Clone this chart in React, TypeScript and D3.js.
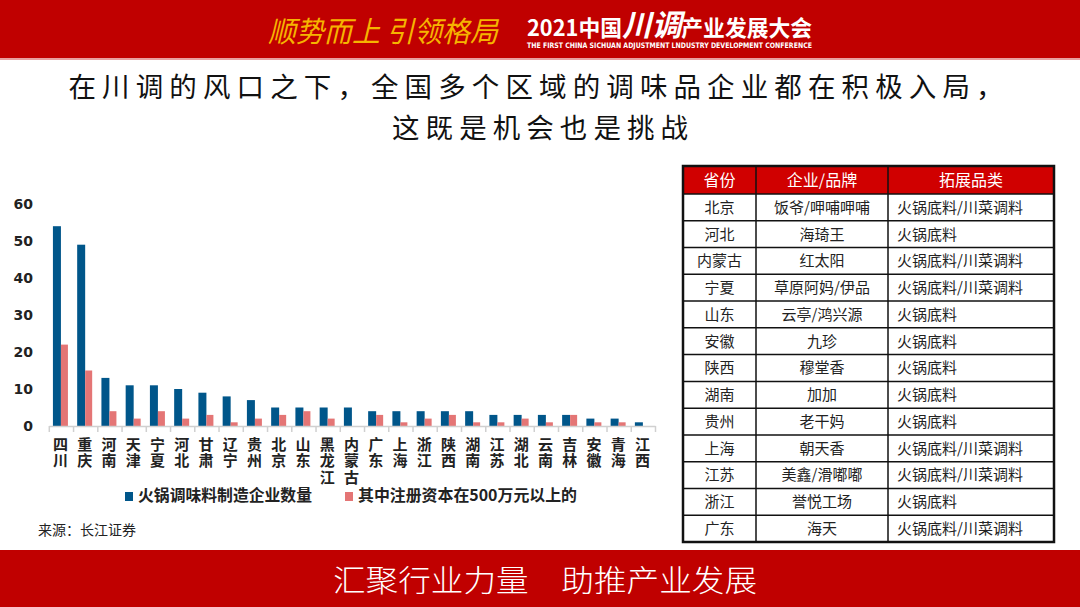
import React from "react";
import * as d3 from "d3";

const provinces = ["四川","重庆","河南","天津","宁夏","河北","甘肃","辽宁","贵州","北京","山东","黑龙江","内蒙古","广东","上海","浙江","陕西","湖南","江苏","湖北","云南","吉林","安徽","青海","江西"];
const enterpriseCount = [54,49,13,11,11,10,9,8,7,5,5,5,5,4,4,4,4,4,3,3,3,3,2,2,1];
const over5mCount = [22,15,4,2,4,2,3,1,2,3,4,2,0,3,1,2,3,1,1,2,1,3,1,1,0];
const yTicks = [0,10,20,30,40,50,60];
const seriesNames = ["火锅调味料制造企业数量","其中注册资本在500万元以上的"];
const titleLines = ["在川调的风口之下，全国多个区域的调味品企业都在积极入局，","这既是机会也是挑战"];

const tableHeader = ["省份","企业/品牌","拓展品类"];
const tableProvince = ["北京","河北","内蒙古","宁夏","山东","安徽","陕西","湖南","贵州","上海","江苏","浙江","广东"];
const tableBrand = ["饭爷/呷哺呷哺","海琦王","红太阳","草原阿妈/伊品","云亭/鸿兴源","九珍","穆堂香","加加","老干妈","朝天香","美鑫/滑嘟嘟","誉悦工场","海天"];
const tableCategory = ["火锅底料/川菜调料","火锅底料","火锅底料/川菜调料","火锅底料/川菜调料","火锅底料","火锅底料","火锅底料","火锅底料","火锅底料","火锅底料/川菜调料","火锅底料/川菜调料","火锅底料","火锅底料/川菜调料"];

const FONT = "'Noto Sans CJK SC', 'Noto Sans', sans-serif";
const RED = "#c00000";
const BLUE = "#00568a";
const PINK = "#e47575";

export default function App() {
  const W = 1080, H = 607;
  const x = d3.scaleBand<string>().domain(provinces).range([49.3, 655.5]).paddingInner(0).paddingOuter(0);
  const y = d3.scaleLinear().domain([0, 60]).range([426, 204]);
  const groupW = 16;
  const sub = d3.scaleBand<number>().domain([0, 1]).range([0, groupW]);
  const axisY = y(0);

  const tx = [683, 756, 888, 1054];
  const tTop = 166, headH = 28;
  const rowY = d3.scaleLinear().domain([0, tableProvince.length]).range([tTop + headH, 542]);

  return (
    <svg width={W} height={H} style={{ position: "absolute", left: 0, top: 0, background: "#fff" }} fontFamily={FONT}>
      <rect x={0} y={0} width={W} height={H} fill="#fff" />
      {/* header band */}
      <rect x={0} y={0} width={W} height={58} fill={RED} />
      <rect x={0} y={58} width={W} height={2} fill="#e8a0a0" />
      <text x={268} y={42} fill="#f6b400" fontSize={29} fontStyle="italic" textLength={230} lengthAdjust="spacingAndGlyphs">顺势而上 引领格局</text>
      <text x={527} y={36} fill="#fff" fontSize={22} fontWeight={700} textLength={285} lengthAdjust="spacingAndGlyphs">
        <tspan>2021中国</tspan>
        <tspan fontSize={30} fontStyle="italic">川调</tspan>
        <tspan>产业发展大会</tspan>
      </text>
      <text x={527} y={48} fill="#fff" fontSize={7.5} fontWeight={700} fontFamily="'DejaVu Sans', sans-serif" textLength={285} lengthAdjust="spacingAndGlyphs">THE FIRST  CHINA  SICHUAN ADJUSTMENT LNDUSTRY DEVELOPMENT CONFERENCE</text>

      {/* title */}
      <text x={536} y={97} fontSize={27.5} fill="#111" textAnchor="middle" textLength={935} lengthAdjust="spacing">{titleLines[0]}</text>
      <text x={540} y={138} fontSize={27.5} fill="#111" textAnchor="middle" textLength={296} lengthAdjust="spacing">{titleLines[1]}</text>

      {/* y tick labels */}
      {yTicks.map((t) => (
        <text key={t} x={33} y={y(t)} dy="0.35em" textAnchor="end" fontSize={14} fontWeight={700} fill="#222" fontFamily="'DejaVu Sans', sans-serif">{t}</text>
      ))}

      {/* bars */}
      {provinces.map((p, i) => {
        const gx = (x(p) as number) + (x.bandwidth() - groupW) / 2 - 0.5;
        return (
          <g key={p}>
            <rect x={gx + (sub(0) as number)} y={y(enterpriseCount[i])} width={sub.bandwidth()} height={axisY - y(enterpriseCount[i])} fill={BLUE} />
            {over5mCount[i] > 0 && (
              <rect x={gx + (sub(1) as number)} y={y(over5mCount[i])} width={sub.bandwidth() - 1} height={axisY - y(over5mCount[i])} fill={PINK} />
            )}
          </g>
        );
      })}

      {/* x axis */}
      <line x1={x.range()[0]} x2={x.range()[1]} y1={axisY + 0.5} y2={axisY + 0.5} stroke="#d0d0d0" strokeWidth={1.5} />
      {provinces.concat(["__end"]).map((p, i) => {
        const xx = i < provinces.length ? (x(p) as number) : x.range()[1];
        return <line key={"t" + i} x1={xx} x2={xx} y1={axisY} y2={axisY + 6} stroke="#d0d0d0" strokeWidth={1.5} />;
      })}
      {provinces.map((p) => (
        <text key={"l" + p} x={(x(p) as number) + x.bandwidth() / 2 - 1} y={436.5} fontSize={15} fontWeight={700} fill="#222"
          style={{ writingMode: "vertical-rl", letterSpacing: "1.5px" }}>{p}</text>
      ))}

      {/* legend */}
      <rect x={125} y={492} width={8} height={9} fill={BLUE} />
      <text x={138} y={501} fontSize={16} fontWeight={700} fill="#222" textLength={174} lengthAdjust="spacingAndGlyphs">{seriesNames[0]}</text>
      <rect x={345} y={492} width={8} height={9} fill={PINK} />
      <text x={358} y={501} fontSize={16} fontWeight={700} fill="#222" textLength={219} lengthAdjust="spacingAndGlyphs">{seriesNames[1]}</text>

      <text x={38} y={535} fontSize={14} fill="#222">来源：长江证券</text>

      {/* table */}
      <rect x={tx[0]} y={tTop} width={tx[3] - tx[0]} height={headH} fill="#d00000" />
      {tableHeader.map((h, c) => (
        <text key={h} x={(tx[c] + tx[c + 1]) / 2} y={tTop + headH / 2} dy="0.36em" textAnchor="middle" fontSize={16} fill="#fff">{h}</text>
      ))}
      {tableProvince.map((p, r) => {
        const cy = (rowY(r) + rowY(r + 1)) / 2;
        return (
          <g key={"row" + r}>
            <text x={(tx[0] + tx[1]) / 2} y={cy} dy="0.36em" textAnchor="middle" fontSize={15} fill="#222">{p}</text>
            <text x={(tx[1] + tx[2]) / 2} y={cy} dy="0.36em" textAnchor="middle" fontSize={15} fill="#222">{tableBrand[r]}</text>
            <text x={897} y={cy} dy="0.36em" textAnchor="start" fontSize={15} fill="#222">{tableCategory[r]}</text>
          </g>
        );
      })}
      {d3.range(1, tableProvince.length).map((r) => (
        <line key={"hl" + r} x1={tx[0]} x2={tx[3]} y1={rowY(r)} y2={rowY(r)} stroke="#111" strokeWidth={1.5} />
      ))}
      <line x1={tx[0]} x2={tx[3]} y1={tTop + headH} y2={tTop + headH} stroke="#111" strokeWidth={1.5} />
      {[tx[1], tx[2]].map((xx, i) => (
        <line key={"vl" + i} x1={xx} x2={xx} y1={tTop} y2={542} stroke="#111" strokeWidth={1.5} />
      ))}
      <rect x={tx[0]} y={tTop} width={tx[3] - tx[0]} height={542 - tTop} fill="none" stroke="#111" strokeWidth={2.5} />

      {/* footer band */}
      <rect x={0} y={550} width={W} height={57} fill={RED} />
      <text x={545} y={591} fill="#fff" fontSize={30} fontWeight={300} textAnchor="middle" textLength={424} lengthAdjust="spacingAndGlyphs">汇聚行业力量　助推产业发展</text>
    </svg>
  );
}
